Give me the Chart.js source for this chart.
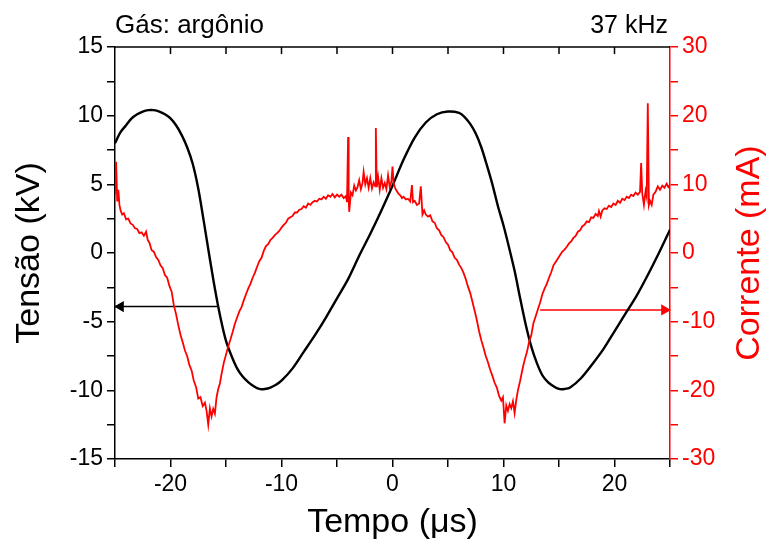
<!DOCTYPE html>
<html>
<head>
<meta charset="utf-8">
<script src="https://cdn.jsdelivr.net/npm/chart.js@4.4.0/dist/chart.umd.min.js"></script>
<style>
  body { margin: 0; background: #fff; }
  #wrap { width: 767px; height: 551px; }
</style>
</head>
<body>
<div id="wrap"><canvas id="chart" width="767" height="551"></canvas></div>
<script>
// Tensão (kV) x tempo (us) - curva preta
const tensaoTempo = [-25, -24.5, -24, -23.5, -23, -22.5, -22, -21.5, -21, -20.5, -20, -19.5, -19, -18.5, -18, -17.5, -17, -16.5, -16, -15.5, -15, -14.5, -14, -13.5, -13, -12.5, -12, -11.5, -11, -10.5, -10, -9, -8, -7, -6, -5, -4, -3, -2, -1, 0, 1, 2, 3, 4, 5, 6, 6.5, 7, 7.5, 8, 8.5, 9, 9.5, 10, 10.5, 11, 11.5, 12, 12.5, 13, 13.5, 14, 14.5, 15, 15.5, 16, 17, 18, 19, 20, 21, 22, 23, 24, 25];
const tensaoKV = [8.0, 8.8, 9.3, 9.8, 10.1, 10.3, 10.4, 10.4, 10.3, 10.1, 9.8, 9.3, 8.6, 7.7, 6.5, 4.7, 2.3, -0.2, -2.6, -4.7, -6.4, -7.5, -8.4, -9.0, -9.4, -9.7, -9.9, -9.9, -9.8, -9.6, -9.3, -8.4, -7.2, -6.0, -4.7, -3.3, -1.9, -0.2, 1.4, 3.1, 4.9, 6.8, 8.4, 9.5, 10.1, 10.3, 10.2, 9.9, 9.4, 8.7, 7.7, 6.4, 5.0, 3.4, 2.0, 0.4, -1.3, -3.3, -5.2, -6.8, -8.0, -8.9, -9.4, -9.7, -9.9, -9.9, -9.8, -9.1, -8.1, -7.0, -5.7, -4.4, -3.1, -1.6, 0.0, 1.7];

// Corrente (mA) x tempo (us) - curva vermelha (com ruido e picos)
const correnteTempo = [-25, -24.9, -24.8, -24.7, -24.6, -24.5, -24.35, -24.2, -24.0, -23.8, -23.6, -23.4, -23.2, -23.0, -22.8, -22.6, -22.4, -22.2, -22.05, -21.9, -21.7, -21.5, -21.3, -21.1, -20.9, -20.7, -20.5, -20.3, -20.1, -19.9, -19.7, -19.5, -19.3, -19.1, -18.9, -18.7, -18.5, -18.3, -18.1, -17.9, -17.7, -17.5, -17.3, -17.1, -16.9, -16.75, -16.6, -16.45, -16.3, -16.15, -16.0, -15.85, -15.7, -15.55, -15.4, -15.2, -15.0, -14.8, -14.6, -14.4, -14.2, -14.0, -13.8, -13.6, -13.4, -13.2, -13.0, -12.8, -12.6, -12.4, -12.2, -12.0, -11.8, -11.6, -11.4, -11.2, -11.0, -10.8, -10.6, -10.4, -10.2, -10.0, -9.8, -9.6, -9.4, -9.2, -9.0, -8.8, -8.6, -8.4, -8.2, -8.0, -7.8, -7.6, -7.4, -7.2, -7.0, -6.8, -6.6, -6.4, -6.2, -6.0, -5.8, -5.6, -5.4, -5.2, -5.0, -4.8, -4.6, -4.4, -4.2, -4.1, -4.0, -3.95, -3.9, -3.75, -3.6, -3.45, -3.3, -3.15, -3.0, -2.85, -2.7, -2.6, -2.45, -2.3, -2.15, -2.0, -1.85, -1.7, -1.55, -1.5, -1.42, -1.3, -1.15, -1.0, -0.85, -0.7, -0.55, -0.4, -0.25, -0.1, 0.0, 0.1, 0.25, 0.4, 0.55, 0.7, 0.85, 1.0, 1.2, 1.4, 1.6, 1.75, 1.85, 2.0, 2.2, 2.4, 2.55, 2.7, 2.85, 3.0, 3.2, 3.4, 3.6, 3.8, 4.0, 4.2, 4.4, 4.6, 4.8, 5.0, 5.2, 5.4, 5.6, 5.8, 6.0, 6.2, 6.4, 6.6, 6.8, 7.0, 7.2, 7.4, 7.6, 7.8, 8.0, 8.2, 8.4, 8.6, 8.8, 9.0, 9.2, 9.4, 9.6, 9.8, 9.95, 10.1, 10.25, 10.4, 10.55, 10.7, 10.85, 11.0, 11.15, 11.3, 11.5, 11.7, 11.9, 12.1, 12.3, 12.5, 12.7, 12.9, 13.1, 13.3, 13.5, 13.7, 13.9, 14.1, 14.3, 14.5, 14.7, 14.9, 15.1, 15.3, 15.5, 15.7, 15.9, 16.1, 16.3, 16.5, 16.7, 16.9, 17.1, 17.3, 17.5, 17.7, 17.9, 18.1, 18.3, 18.5, 18.6, 18.75, 18.9, 19.1, 19.3, 19.5, 19.7, 19.9, 20.1, 20.3, 20.5, 20.7, 20.9, 21.1, 21.3, 21.5, 21.7, 21.9, 22.1, 22.3, 22.4, 22.5, 22.65, 22.8, 22.9, 23.0, 23.1, 23.2, 23.35, 23.5, 23.7, 23.9, 24.1, 24.3, 24.5, 24.7, 24.85, 25.0];
const correnteMA = [8.5, 13.3, 7.5, 9.2, 7.0, 6.2, 5.6, 5.8, 4.9, 5.0, 4.3, 4.1, 3.6, 3.5, 2.9, 3.0, 2.5, 3.1, 1.9, 1.5, 0.4, 0.2, -0.6, -1.0, -1.8, -2.2, -3.2, -3.6, -4.8, -5.6, -7.6, -8.9, -10.5, -11.9, -13.0, -14.2, -15.0, -16.3, -17.1, -18.6, -19.5, -21.2, -21.0, -22.3, -21.8, -23.0, -25.0, -22.6, -23.8, -22.7, -23.4, -21.0, -19.8, -19.0, -17.6, -16.0, -14.8, -13.6, -12.6, -11.5, -10.3, -9.4, -8.5, -7.9, -6.9, -6.0, -5.2, -4.5, -3.6, -2.9, -2.0, -1.2, -0.7, 0.3, 1.0, 1.3, 1.9, 2.2, 2.6, 2.9, 3.2, 3.7, 4.1, 4.4, 5.0, 5.2, 5.4, 5.9, 5.9, 6.3, 6.4, 6.8, 6.6, 7.2, 7.0, 7.4, 7.6, 7.5, 7.9, 7.8, 8.2, 7.9, 8.4, 8.2, 8.6, 8.1, 8.5, 8.2, 8.5, 8.0, 8.3, 7.4, 16.9, 8.0, 6.0, 8.8, 8.4, 9.8, 9.1, 9.6, 10.6, 9.3, 10.2, 11.8, 10.0, 10.9, 9.5, 10.9, 9.4, 10.3, 9.7, 18.2, 9.6, 11.1, 9.2, 10.9, 9.5, 10.2, 9.3, 11.3, 9.6, 10.4, 12.6, 10.2, 9.4, 9.0, 8.6, 8.4, 8.0, 8.2, 7.8, 7.9, 7.5, 9.9, 7.4, 7.6, 7.0, 7.2, 9.7, 5.6, 6.2, 5.6, 5.3, 5.5, 4.6, 4.4, 3.6, 3.3, 2.6, 2.3, 1.6, 1.2, 0.4, 0.1, -0.7, -1.0, -1.7, -2.2, -2.9, -3.8, -4.9, -5.8, -7.1, -8.4, -9.8, -11.4, -12.7, -13.8, -15.0, -15.9, -17.0, -17.9, -18.9, -19.6, -20.8, -21.5, -21.0, -24.8, -22.2, -23.0, -22.0, -22.6, -21.6, -23.3, -21.4, -20.0, -18.6, -17.0, -15.6, -14.5, -13.0, -12.0, -10.2, -9.2, -8.2, -7.2, -6.0, -5.2, -4.5, -3.6, -2.8, -1.8, -1.3, -0.8, -0.3, 0.2, 0.5, 0.9, 1.4, 1.7, 2.2, 2.5, 3.1, 3.3, 3.9, 4.1, 4.6, 4.5, 5.2, 5.1, 5.7, 5.4, 6.1, 5.3, 6.2, 6.5, 6.4, 6.9, 6.7, 7.2, 7.0, 7.6, 7.3, 7.9, 7.7, 8.2, 8.0, 8.5, 8.3, 8.8, 8.5, 8.9, 13.1, 8.7, 7.0, 9.0, 8.2, 21.8, 7.0, 7.6, 7.0, 8.5, 8.9, 9.7, 9.2, 9.8, 9.5, 10.1, 9.6, 9.9];

// setas indicando o eixo de cada curva
const setaTensaoX = [-15.7, -24.5, -25];
const setaTensaoY = [-3.9, -3.9, -3.9];
const setaCorrenteX = [13.3, 24.5, 25];
const setaCorrenteY = [-8.3, -8.3, -8.3];

const toPoints = (xs, ys) => xs.map((x, i) => ({ x: x, y: ys[i] }));

const RED = '#ff0000';
const FONT = "'Liberation Sans', Arial, sans-serif";

// moldura superior com ticks para dentro + textos e titulo do eixo direito
const extras = {
  id: 'extras',
  afterDraw(chart) {
    const { ctx, chartArea, scales } = chart;
    ctx.save();
    ctx.strokeStyle = '#000';
    ctx.lineWidth = 1.5;
    ctx.beginPath();
    ctx.moveTo(chartArea.left, chartArea.top);
    ctx.lineTo(chartArea.right, chartArea.top);
    for (let v = -20; v <= 20; v += 5) {
      const px = scales.x.getPixelForValue(v);
      ctx.moveTo(px, chartArea.top);
      ctx.lineTo(px, chartArea.top + 7);
    }
    ctx.stroke();

    ctx.fillStyle = '#000';
    ctx.font = '26px ' + FONT;
    ctx.textBaseline = 'alphabetic';
    ctx.textAlign = 'left';
    ctx.fillText('Gás: argônio', chartArea.left, 33);
    ctx.font = '25px ' + FONT;
    ctx.textAlign = 'right';
    ctx.fillText('37 kHz', chartArea.right - 2, 33);

    ctx.fillStyle = RED;
    ctx.font = '34px ' + FONT;
    ctx.textAlign = 'center';
    ctx.textBaseline = 'middle';
    ctx.translate(750, (chartArea.top + chartArea.bottom) / 2);
    ctx.rotate(-Math.PI / 2);
    ctx.fillText('Corrente (mA)', 0, 0);
    ctx.restore();
  }
};

new Chart(document.getElementById('chart'), {
  type: 'line',
  data: {
    datasets: [
      {
        label: 'Corrente',
        data: toPoints(correnteTempo, correnteMA),
        yAxisID: 'y2',
        borderColor: RED,
        borderWidth: 1.8,
        pointRadius: 0,
        tension: 0
      },
      {
        label: 'Tensão',
        data: toPoints(tensaoTempo, tensaoKV),
        yAxisID: 'y',
        borderColor: '#000',
        borderWidth: 2.4,
        pointRadius: 0,
        tension: 0.3
      },
      {
        label: 'seta tensão',
        data: toPoints(setaTensaoX, setaTensaoY),
        yAxisID: 'y',
        borderColor: '#000',
        backgroundColor: '#000',
        borderWidth: 1.5,
        pointRadius: [0, 5, 0],
        pointStyle: 'triangle',
        pointRotation: [0, -90, 0],
        clip: false
      },
      {
        label: 'seta corrente',
        data: toPoints(setaCorrenteX, setaCorrenteY),
        yAxisID: 'y2',
        borderColor: RED,
        backgroundColor: RED,
        borderWidth: 1.5,
        pointRadius: [0, 5, 0],
        pointStyle: 'triangle',
        pointRotation: [0, 90, 0],
        clip: false
      }
    ]
  },
  options: {
    responsive: false,
    animation: false,
    layout: { padding: { top: 47, left: 0, right: 0, bottom: 0 } },
    plugins: {
      legend: { display: false },
      tooltip: { enabled: false }
    },
    scales: {
      x: {
        type: 'linear',
        min: -25,
        max: 25,
        afterFit: s => { s.height = 92; },
        ticks: {
          stepSize: 5,
          autoSkip: false,
          maxRotation: 0,
          color: '#000',
          padding: 4,
          font: { size: 23, family: FONT },
          callback: v => (v % 10 === 0 ? v : '')
        },
        grid: { drawOnChartArea: false, tickLength: 8, color: '#000', lineWidth: 1.5 },
        border: { color: '#000', width: 1.5 },
        title: {
          display: true,
          text: 'Tempo (\u03bcs)',
          color: '#000',
          font: { size: 34, family: FONT },
          padding: { top: 0, bottom: 8 }
        }
      },
      y: {
        position: 'left',
        min: -15,
        max: 15,
        afterFit: s => { s.width = 115; },
        ticks: {
          stepSize: 2.5,
          autoSkip: false,
          color: '#000',
          padding: 4,
          font: { size: 23, family: FONT },
          callback: v => (v % 5 === 0 ? v : '')
        },
        grid: { drawOnChartArea: false, tickLength: 8, color: '#000', lineWidth: 1.5 },
        border: { color: '#000', width: 1.5 },
        title: {
          display: true,
          text: 'Tensão (kV)',
          color: '#000',
          font: { size: 34, family: FONT },
          padding: { top: 9, bottom: 0 }
        }
      },
      y2: {
        position: 'right',
        min: -30,
        max: 30,
        afterFit: s => { s.width = 97; },
        ticks: {
          stepSize: 5,
          autoSkip: false,
          color: RED,
          padding: 4,
          font: { size: 23, family: FONT },
          callback: v => (v % 10 === 0 ? v : '')
        },
        grid: { drawOnChartArea: false, tickLength: 8, color: RED, lineWidth: 1.5 },
        border: { color: RED, width: 1.5 }
      }
    }
  },
  plugins: [extras]
});
</script>
</body>
</html>
